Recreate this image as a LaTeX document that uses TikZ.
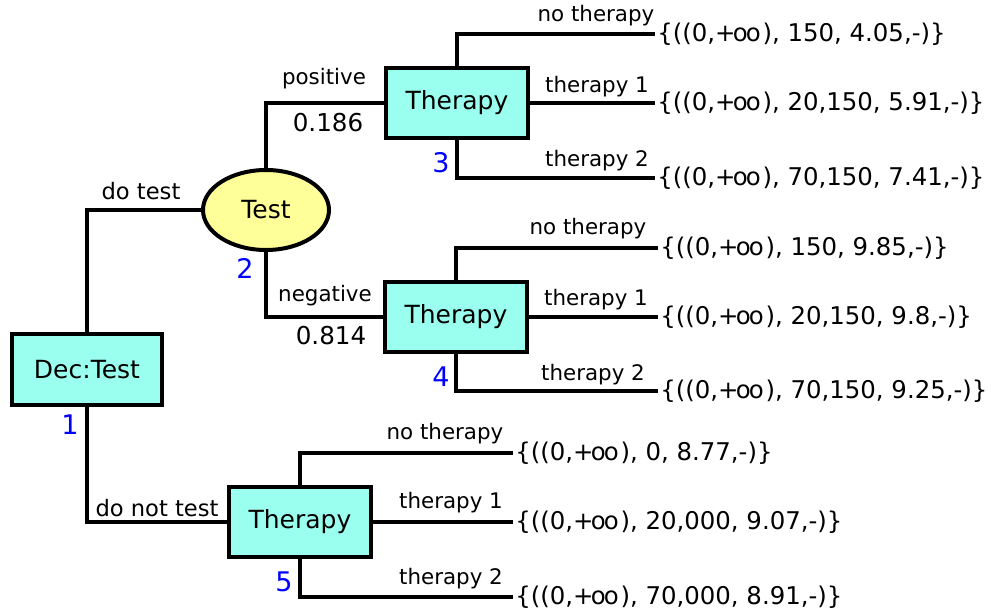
\documentclass[tikz,border=0pt]{standalone}
\usepackage{fontspec}
\setmainfont{DejaVu Sans}
\usetikzlibrary{shapes.geometric}
\definecolor{boxcyan}{RGB}{155,255,240}
\definecolor{ellyellow}{RGB}{255,255,153}
\newcommand{\plusoo}{+\kern-0.12em o\kern-0.08em o\kern0.08em}
\begin{document}
\begin{tikzpicture}[x=0.5pt,y=-0.5pt,
  decbox/.style={draw,line width=2pt,fill=boxcyan,rectangle,inner sep=0pt,font=\fontsize{12.5}{14}\selectfont},
  chance/.style={draw,line width=2pt,fill=ellyellow,ellipse,inner sep=0pt,minimum width=63pt,minimum height=40pt,font=\fontsize{12.5}{14}\selectfont},
  conn/.style={line width=1.9pt},
  brlab/.style={inner sep=0pt,font=\fontsize{10.7}{12}\selectfont},
  problab/.style={inner sep=0pt,font=\fontsize{12.3}{14}\selectfont},
  payoff/.style={anchor=west,inner sep=1pt,font=\fontsize{12.2}{14}\selectfont},
  idx/.style={inner sep=0pt,text=blue,font=\fontsize{13.5}{15}\selectfont}
]
\useasboundingbox (0,0) rectangle (991,611);

% nodes
\node[decbox,minimum width=75pt,minimum height=35.5pt] (dec) at (87,369.5) {Dec:Test};
\node[chance] (test) at (266,210) {Test};
\node[decbox,minimum width=71pt,minimum height=35pt] (th3) at (457,103) {Therapy};
\node[decbox,minimum width=71pt,minimum height=35pt] (th4) at (456,317) {Therapy};
\node[decbox,minimum width=71pt,minimum height=35pt] (th5) at (300,522) {Therapy};

% payoffs
\node[payoff] (p31) at (655,34) {\{((0,\plusoo), 150, 4.05,-)\}};
\node[payoff] (p32) at (655,103) {\{((0,\plusoo), 20,150, 5.91,-)\}};
\node[payoff] (p33) at (655,178) {\{((0,\plusoo), 70,150, 7.41,-)\}};
\node[payoff] (p41) at (658,248) {\{((0,\plusoo), 150, 9.85,-)\}};
\node[payoff] (p42) at (658,317) {\{((0,\plusoo), 20,150, 9.8,-)\}};
\node[payoff] (p43) at (658,391) {\{((0,\plusoo), 70,150, 9.25,-)\}};
\node[payoff] (p51) at (513,453) {\{((0,\plusoo), 0, 8.77,-)\}};
\node[payoff] (p52) at (513,522) {\{((0,\plusoo), 20,000, 9.07,-)\}};
\node[payoff] (p53) at (513,597) {\{((0,\plusoo), 70,000, 8.91,-)\}};

% connectors
\draw[conn] (dec.north) |- (test.west);
\draw[conn] (dec.south) |- (th5.west);
\draw[conn] (test.north) |- (th3.west);
\draw[conn] (test.south) |- (th4.west);
\draw[conn] (th3.north) |- (p31.west);
\draw[conn] (th3.east) -- (p32.west);
\draw[conn] (th3.south) |- (p33.west);
\draw[conn] (th4.north) |- (p41.west);
\draw[conn] (th4.east) -- (p42.west);
\draw[conn] (th4.south) |- (p43.west);
\draw[conn] (th5.north) |- (p51.west);
\draw[conn] (th5.east) -- (p52.west);
\draw[conn] (th5.south) |- (p53.west);

% branch labels
\node[brlab,font=\fontsize{11.3}{13}\selectfont] (ldt) at (141,191) {do test};
\node[brlab,font=\fontsize{11.3}{13}\selectfont] (ldnt) at (157,508) {do not test};
\node[brlab] (lpos) at (324,79) {positive};
\node[problab] (ppos) at (328,123) {0.186};
\node[brlab] (lneg) at (325,296) {negative};
\node[problab] (pneg) at (331,336) {0.814};
\node[brlab] (l31) at (596,16) {no therapy};
\node[brlab] (l32) at (597,87) {therapy 1};
\node[brlab] (l33) at (597,161) {therapy 2};
\node[brlab] (l41) at (588,229) {no therapy};
\node[brlab] (l42) at (596,300) {therapy 1};
\node[brlab] (l43) at (593,375) {therapy 2};
\node[brlab] (l51) at (445,434) {no therapy};
\node[brlab] (l52) at (451,503) {therapy 1};
\node[brlab] (l53) at (451,579) {therapy 2};

% indices
\node[idx] (i1) at (70,425) {1};
\node[idx] (i2) at (245,268) {2};
\node[idx] (i3) at (441,163) {3};
\node[idx] (i4) at (441,377) {4};
\node[idx] (i5) at (284,582) {5};
\end{tikzpicture}
\end{document}
